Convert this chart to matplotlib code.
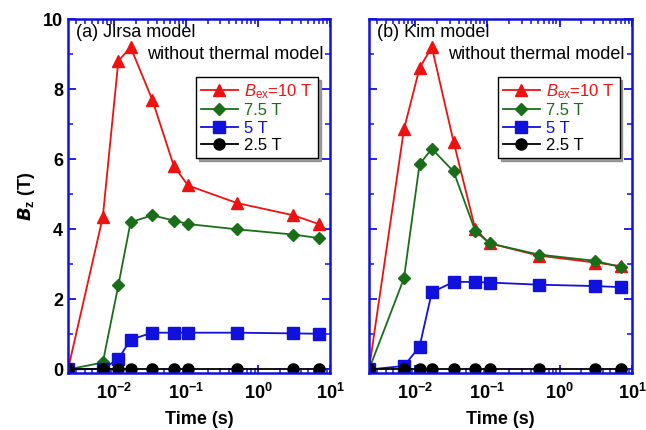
import matplotlib
matplotlib.use("Agg")
import matplotlib.pyplot as plt
from matplotlib.ticker import LogLocator, NullFormatter, MultipleLocator

t = [0.0023, 0.007, 0.0115, 0.017, 0.034, 0.068, 0.107, 0.51, 3.1, 7.0]
a10 = [0, 4.35, 8.8, 9.2, 7.7, 5.8, 5.25, 4.75, 4.4, 4.15]
a75 = [0, 0.2, 2.4, 4.2, 4.4, 4.25, 4.15, 4.0, 3.85, 3.75]
a5 = [0, 0.02, 0.3, 0.85, 1.05, 1.05, 1.05, 1.05, 1.03, 1.02]
a25 = [0.02] * 10
b10 = [0, 6.85, 8.6, 9.2, 6.5, 4.0, 3.6, 3.25, 3.05, 2.95]
b75 = [0, 2.6, 5.85, 6.3, 5.65, 3.95, 3.6, 3.28, 3.1, 2.92]
b5 = [0, 0.1, 0.65, 2.2, 2.5, 2.5, 2.48, 2.42, 2.38, 2.35]
b25 = [0.02] * 10
titles = ["(a) Jirsa model", "(b) Kim model"]
labels = [r"$B_{\rm ex}$=10 T", "7.5 T", "5 T", "2.5 T"]
colors = ["#ee1111", "#1a6e1a", "#1111dd", "black"]
markers = ["^", "D", "s", "o"]

plt.rcParams["font.family"] = ["Liberation Sans", "DejaVu Sans"]
plt.rcParams["mathtext.fontset"] = "custom"
plt.rcParams["mathtext.it"] = "Liberation Sans:italic"
plt.rcParams["mathtext.rm"] = "Liberation Sans"
plt.rcParams["mathtext.bf"] = "Liberation Sans:bold"
fig = plt.figure(figsize=(6.46, 4.30), dpi=100)
W, H = 646, 430
boxes = [(68, 330), (369, 632)]
for i, (series, (l, r)) in enumerate(zip([(a10, a75, a5, a25), (b10, b75, b5, b25)], boxes)):
    ax = fig.add_axes([l / W, 1 - 373 / H, (r - l) / W, (373 - 19) / H])
    for s, lab, c, m in zip(series, labels, colors, markers):
        ms = 8 if m != "D" else 6
        ax.plot(t, s, color=c, marker=m, ms=ms, lw=1.3, label=lab)
    ax.set_xscale("log")
    ax.set_xlim(0.0023, 10)
    ax.set_ylim(-0.1, 10)
    ax.set_yticks([0, 2, 4, 6, 8, 10])
    ax.yaxis.set_minor_locator(MultipleLocator(1))
    if i == 0:
        ax.set_ylabel(r"$\mathbfit{B}_{\mathbf{z}}$ (T)", fontsize=13, fontweight="bold")
    else:
        ax.set_yticklabels([])
    ax.xaxis.set_major_locator(LogLocator(base=10, numticks=10))
    ax.xaxis.set_minor_locator(LogLocator(base=10, subs=range(2, 10), numticks=20))
    ax.xaxis.set_minor_formatter(NullFormatter())
    ax.tick_params(direction="in", which="both", top=True, right=True, color="#1111dd", labelsize=13)
    ax.tick_params(axis="x", pad=7)
    ax.tick_params(which="major", length=6, width=1.3)
    ax.tick_params(which="minor", length=3.5, width=1.1)
    for lab in ax.get_xticklabels() + ax.get_yticklabels():
        lab.set_fontweight("bold")
    for sp in ax.spines.values():
        sp.set_color("#1111dd")
        sp.set_linewidth(1.8)
    ax.set_xlabel("Time (s)", fontsize=13, fontweight="bold", labelpad=6)
    ax.text(0.03, 0.985, titles[i], transform=ax.transAxes, fontsize=13, va="top")
    ax.text(0.3, 0.925, "without thermal model", transform=ax.transAxes, fontsize=13, va="top",
            clip_on=False)
    leg = ax.legend(loc="upper right", bbox_to_anchor=(0.985, 0.86), fontsize=12, frameon=True,
                    fancybox=False, edgecolor="black", shadow=True, handlelength=2.2, borderpad=0.3,
                    labelspacing=0.15, handletextpad=0.4)
    for txt, c in zip(leg.get_texts(), colors):
        txt.set_color(c)
fig.savefig("out.png", dpi=100)
